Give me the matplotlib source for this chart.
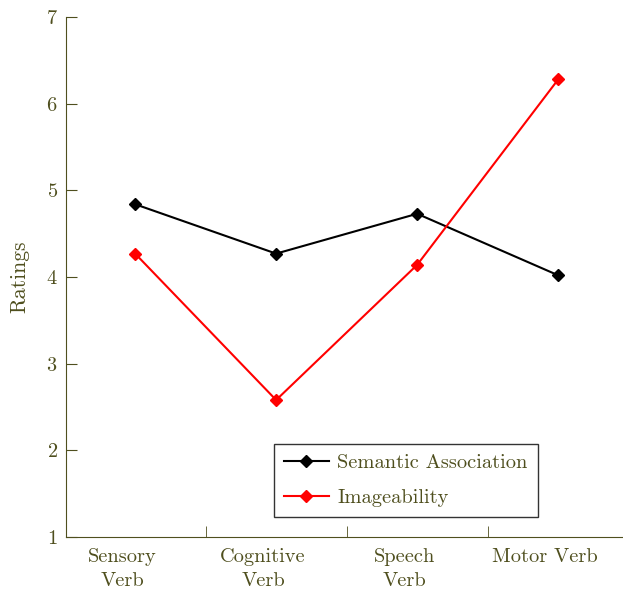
import matplotlib.pyplot as plt
import matplotlib.transforms as mtransforms
import numpy as np

plt.rcParams['font.family'] = ['cmr10', 'DejaVu Serif']
plt.rcParams['mathtext.fontset'] = 'cm'
plt.rcParams['axes.formatter.use_mathtext'] = True

categories = ["Sensory\nVerb", "Cognitive\nVerb", "Speech\nVerb", "Motor Verb"]
semantic = [4.84, 4.27, 4.73, 4.02]
imageability = [4.27, 2.58, 4.14, 6.28]

TEXT = '#4f4f1e'

fig = plt.figure(figsize=(6.23, 5.9), dpi=100)
ax = fig.add_axes([0.106, 0.090, 0.894, 0.881])

x = np.arange(1, len(categories) + 1)
ax.plot(x, semantic, color='black', marker='D', markersize=6.5, lw=1.5,
        label='Semantic Association')
ax.plot(x, imageability, color='red', marker='D', markersize=6.5, lw=1.5,
        label='Imageability')

ax.set_xlim(0.51, 4.46)
ax.set_ylim(1, 7)
ax.set_xticks(x)
ax.set_xticklabels(categories, linespacing=1.45)
ax.set_xticks(x[:-1] + 0.5, minor=True)
ax.tick_params(axis='x', which='major', length=0, pad=8, labelsize=14.7, labelcolor=TEXT)
ax.tick_params(axis='x', which='minor', direction='in', length=8, color=TEXT)
ax.tick_params(axis='y', direction='in', length=8, color=TEXT, labelsize=14.7, labelcolor=TEXT, pad=6)
ax.set_yticks(range(1, 8))

# category labels sit a little left of their points
shift = mtransforms.ScaledTranslation(-0.13, 0, fig.dpi_scale_trans)
for lbl in ax.get_xticklabels():
    lbl.set_transform(lbl.get_transform() + shift)

for s in ['top', 'right']:
    ax.spines[s].set_visible(False)
for s in ['left', 'bottom']:
    ax.spines[s].set_color(TEXT)

ax.set_ylabel('Ratings', fontsize=15.5, color=TEXT, labelpad=12)

leg = ax.legend(loc='lower left', bbox_to_anchor=(0.373, 0.038), fontsize=14.7,
                frameon=True, fancybox=False, edgecolor='#333333', framealpha=1,
                handlelength=2.2, handletextpad=0.4, borderpad=0.5, labelspacing=0.8,
                borderaxespad=0)
for t in leg.get_texts():
    t.set_color(TEXT)

fig.savefig('out.png', dpi=100)
